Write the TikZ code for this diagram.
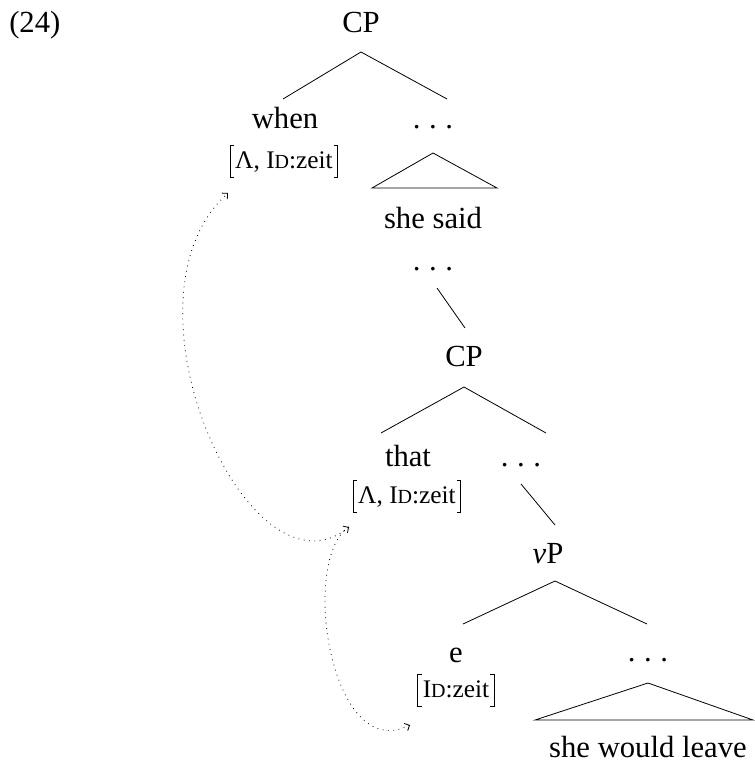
\documentclass[tikz,border=0pt]{standalone}
\usepackage{fontspec}
\setmainfont{Liberation Serif}
\usetikzlibrary{arrows.meta}

\newcommand\mainsize{\fontsize{23}{27}\selectfont}
\newcommand\featsize{\fontsize{19}{22}\selectfont}
% faked small-caps "ID"
\newcommand\featID{I{\fontsize{15}{18}\selectfont D}}
% spaced ellipsis
\newcommand\sdots{.\kern0.28em.\kern0.28em.}
% square brackets around a feature bundle node
\newcommand\featbrackets[1]{%
  \draw[bracket] ([xshift=3pt]#1.north west) -| (#1.south west) -- ([xshift=3pt]#1.south west);
  \draw[bracket] ([xshift=-3pt]#1.north east) -| (#1.south east) -- ([xshift=-3pt]#1.south east);}

\begin{document}
\begin{tikzpicture}[x=0.75pt,y=-0.75pt,
  lbl/.style={anchor=base, inner sep=0pt, font=\mainsize},
  feat/.style={anchor=base, inner xsep=3.5pt, inner ysep=0pt,
               text height=17pt, text depth=6.75pt, font=\featsize},
  branch/.style={line width=0.6pt},
  bracket/.style={line width=0.7pt},
  tip/.tip={Straight Barb[length=3pt,width=6pt]},
  movement/.style={line width=0.6pt, dash pattern=on 0.6pt off 3.4pt, -tip}]
\useasboundingbox (0,0) rectangle (754,763);

% example number
\node[lbl, anchor=base west] (num) at (9,33) {(24)};

% upper CP
\node[lbl] (cp1) at (361,33) {CP};
\node[lbl] (when) at (285,128) {when};
\node[feat] (f1) at (284,168) {Λ, \featID:zeit};
\node[lbl] (d1) at (433,128) {\sdots};
\node[lbl] (said) at (433,228) {she said};
\node[lbl] (d2) at (433,270) {\sdots};

% embedded CP
\node[lbl] (cp2) at (464,366) {CP};
\node[lbl] (that) at (408,466) {that};
\node[feat] (f2) at (407,503) {Λ, \featID:zeit};
\node[lbl] (d3) at (521,466) {\sdots};

% vP
\node[lbl] (vp) at (548,563) {\textit{v}P};
\node[lbl] (e) at (456,662) {e};
\node[feat] (f3) at (456,697) {\featID:zeit};
\node[lbl] (d4) at (648,661) {\sdots};
\node[lbl] (leave) at (648,757) {she would leave};

\featbrackets{f1}
\featbrackets{f2}
\featbrackets{f3}

% branch points
\coordinate (cp1-a) at (361,52);
\coordinate (cp1-l) at (283,99);
\coordinate (cp1-r) at (447,99);
\coordinate (t1-a) at (433,153);
\coordinate (t1-l) at (372,188);
\coordinate (t1-r) at (497,188);
\coordinate (d2-a) at (437,288);
\coordinate (cp2-b) at (465,328);
\coordinate (cp2-a) at (464,387);
\coordinate (cp2-l) at (381,433);
\coordinate (cp2-r) at (546,433);
\coordinate (d3-a) at (521,484);
\coordinate (vp-b) at (555,525);
\coordinate (vp-a) at (555,581);
\coordinate (vp-l) at (463,624);
\coordinate (vp-r) at (647,624);
\coordinate (t4-a) at (648,683);
\coordinate (t4-l) at (535,720);
\coordinate (t4-r) at (753,720);

\draw[branch] (cp1-l) -- (cp1-a) -- (cp1-r);
\draw[branch] (t1-a) -- (t1-r) -- (t1-l) -- cycle;
\draw[branch] (d2-a) -- (cp2-b);
\draw[branch] (cp2-l) -- (cp2-a) -- (cp2-r);
\draw[branch] (d3-a) -- (vp-b);
\draw[branch] (vp-l) -- (vp-a) -- (vp-r);
\draw[branch] (t4-a) -- (t4-r) -- (t4-l) -- cycle;

% movement paths
\coordinate (m-when) at (228,193);
\coordinate (m-that) at (349,527);
\coordinate (m-e) at (410,725);
\draw[movement] (m-that) .. controls (250,610) and (110,300) .. (m-when);
\draw[movement, tip-tip] (m-that) .. controls (300,560) and (330,765) .. (m-e);
\end{tikzpicture}
\end{document}
